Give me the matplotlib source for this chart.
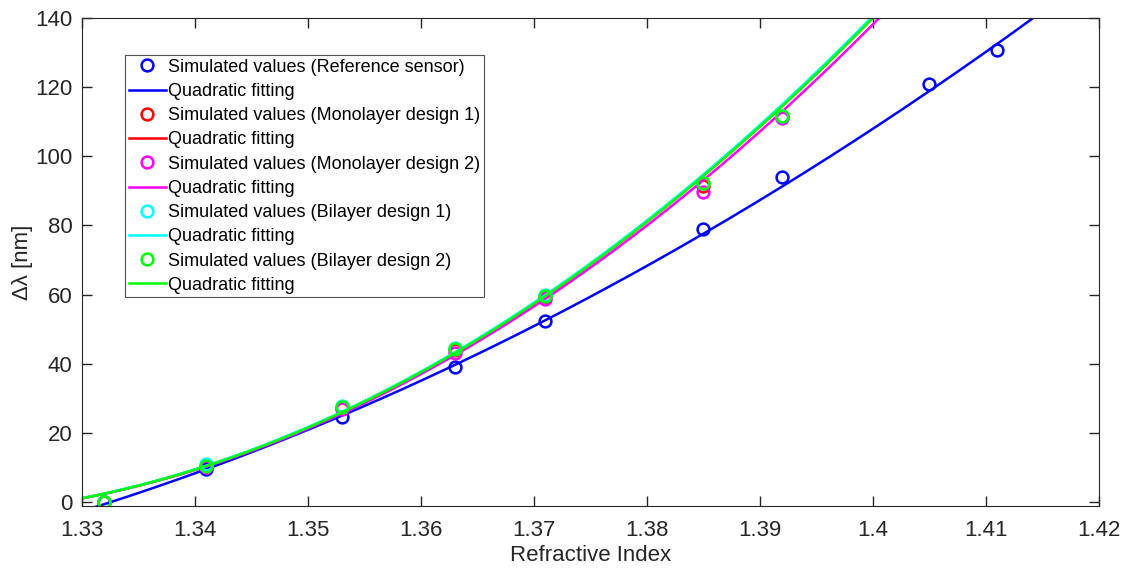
import matplotlib.pyplot as plt
import numpy as np

plt.rcParams['font.family'] = ['Liberation Sans', 'DejaVu Sans']

# refractive index of the analyte
n_ref = [1.332, 1.341, 1.353, 1.363, 1.371, 1.385, 1.392, 1.405, 1.411]
n_des = [1.332, 1.341, 1.353, 1.363, 1.371, 1.385, 1.392]

# wavelength shift [nm]
shift_ref = [0.0, 9.6, 24.6, 39.0, 52.3, 79.0, 94.1, 121.0, 130.7]
shift_mono1 = [0.0, 10.4, 27.2, 44.0, 59.3, 91.5, 111.3]
shift_mono2 = [0.0, 10.2, 27.0, 43.2, 58.8, 89.8, 111.0]
shift_bi1 = [0.0, 10.9, 27.8, 44.6, 60.0, 92.2, 111.6]
shift_bi2 = [0.0, 10.4, 27.4, 44.3, 59.5, 92.2, 111.6]

# quadratic fit coefficients [a, b, c],
# in t = (n - 1.33) * 100
fit_ref = [0.806, 10.17, -2.74]
fit_mono1 = [1.927, 6.37, 1.0]
fit_mono2 = [1.903, 6.27, 1.0]
fit_bi1 = [1.93, 6.42, 1.05]
fit_bi2 = [1.927, 6.37, 1.0]

series = [
    (n_ref, shift_ref, fit_ref, (0, 0, 1), 'Reference sensor'),
    (n_des, shift_mono1, fit_mono1, (1, 0, 0), 'Monolayer design 1'),
    (n_des, shift_mono2, fit_mono2, (1, 0, 1), 'Monolayer design 2'),
    (n_des, shift_bi1, fit_bi1, (0, 1, 1), 'Bilayer design 1'),
    (n_des, shift_bi2, fit_bi2, (0, 1, 0), 'Bilayer design 2'),
]

txt = '#262626'
fig = plt.figure(figsize=(11.27, 5.70), dpi=100)
ax = fig.add_axes([0.0725, 0.1123, 0.9025, 0.856])

xfit = np.linspace(1.33, 1.42, 400)
for x, y, p, c, name in series:
    ax.plot(x, y, 'o', color=c, markerfacecolor='none', markersize=8.5,
            markeredgewidth=1.8, label='Simulated values (%s)' % name)
    ax.plot(xfit, np.polyval(p, (xfit - 1.33) * 100), '-', color=c,
            linewidth=1.8, label='Quadratic fitting')

ax.set_xlim(1.33, 1.42)
ax.set_ylim(-1.2, 140)
ax.set_xticks(np.arange(1.33, 1.4201, 0.01))
ax.set_xticklabels(['1.33', '1.34', '1.35', '1.36', '1.37', '1.38', '1.39',
                    '1.4', '1.41', '1.42'])
ax.set_yticks(np.arange(0, 141, 20))
ax.tick_params(direction='in', length=7.5, width=1, labelsize=16,
               colors=txt, top=True, right=True)
ax.tick_params(axis='x', pad=10)
ax.tick_params(axis='y', pad=6.5)
for s in ax.spines.values():
    s.set_color(txt)
ax.set_xlabel('Refractive Index', fontsize=16, color=txt, labelpad=3)
ax.set_ylabel('\u0394\u03bb [nm]', fontsize=16, color=txt, labelpad=2)

leg = ax.legend(loc='upper left', bbox_to_anchor=(0.0426, 0.924), fontsize=13,
                frameon=True, fancybox=False, handlelength=2.05,
                handletextpad=0.15, borderpad=0.2, labelspacing=0.40,
                borderaxespad=0, edgecolor='#262626')
leg.get_frame().set_linewidth(0.8)

fig.savefig('out.png', dpi=100)
